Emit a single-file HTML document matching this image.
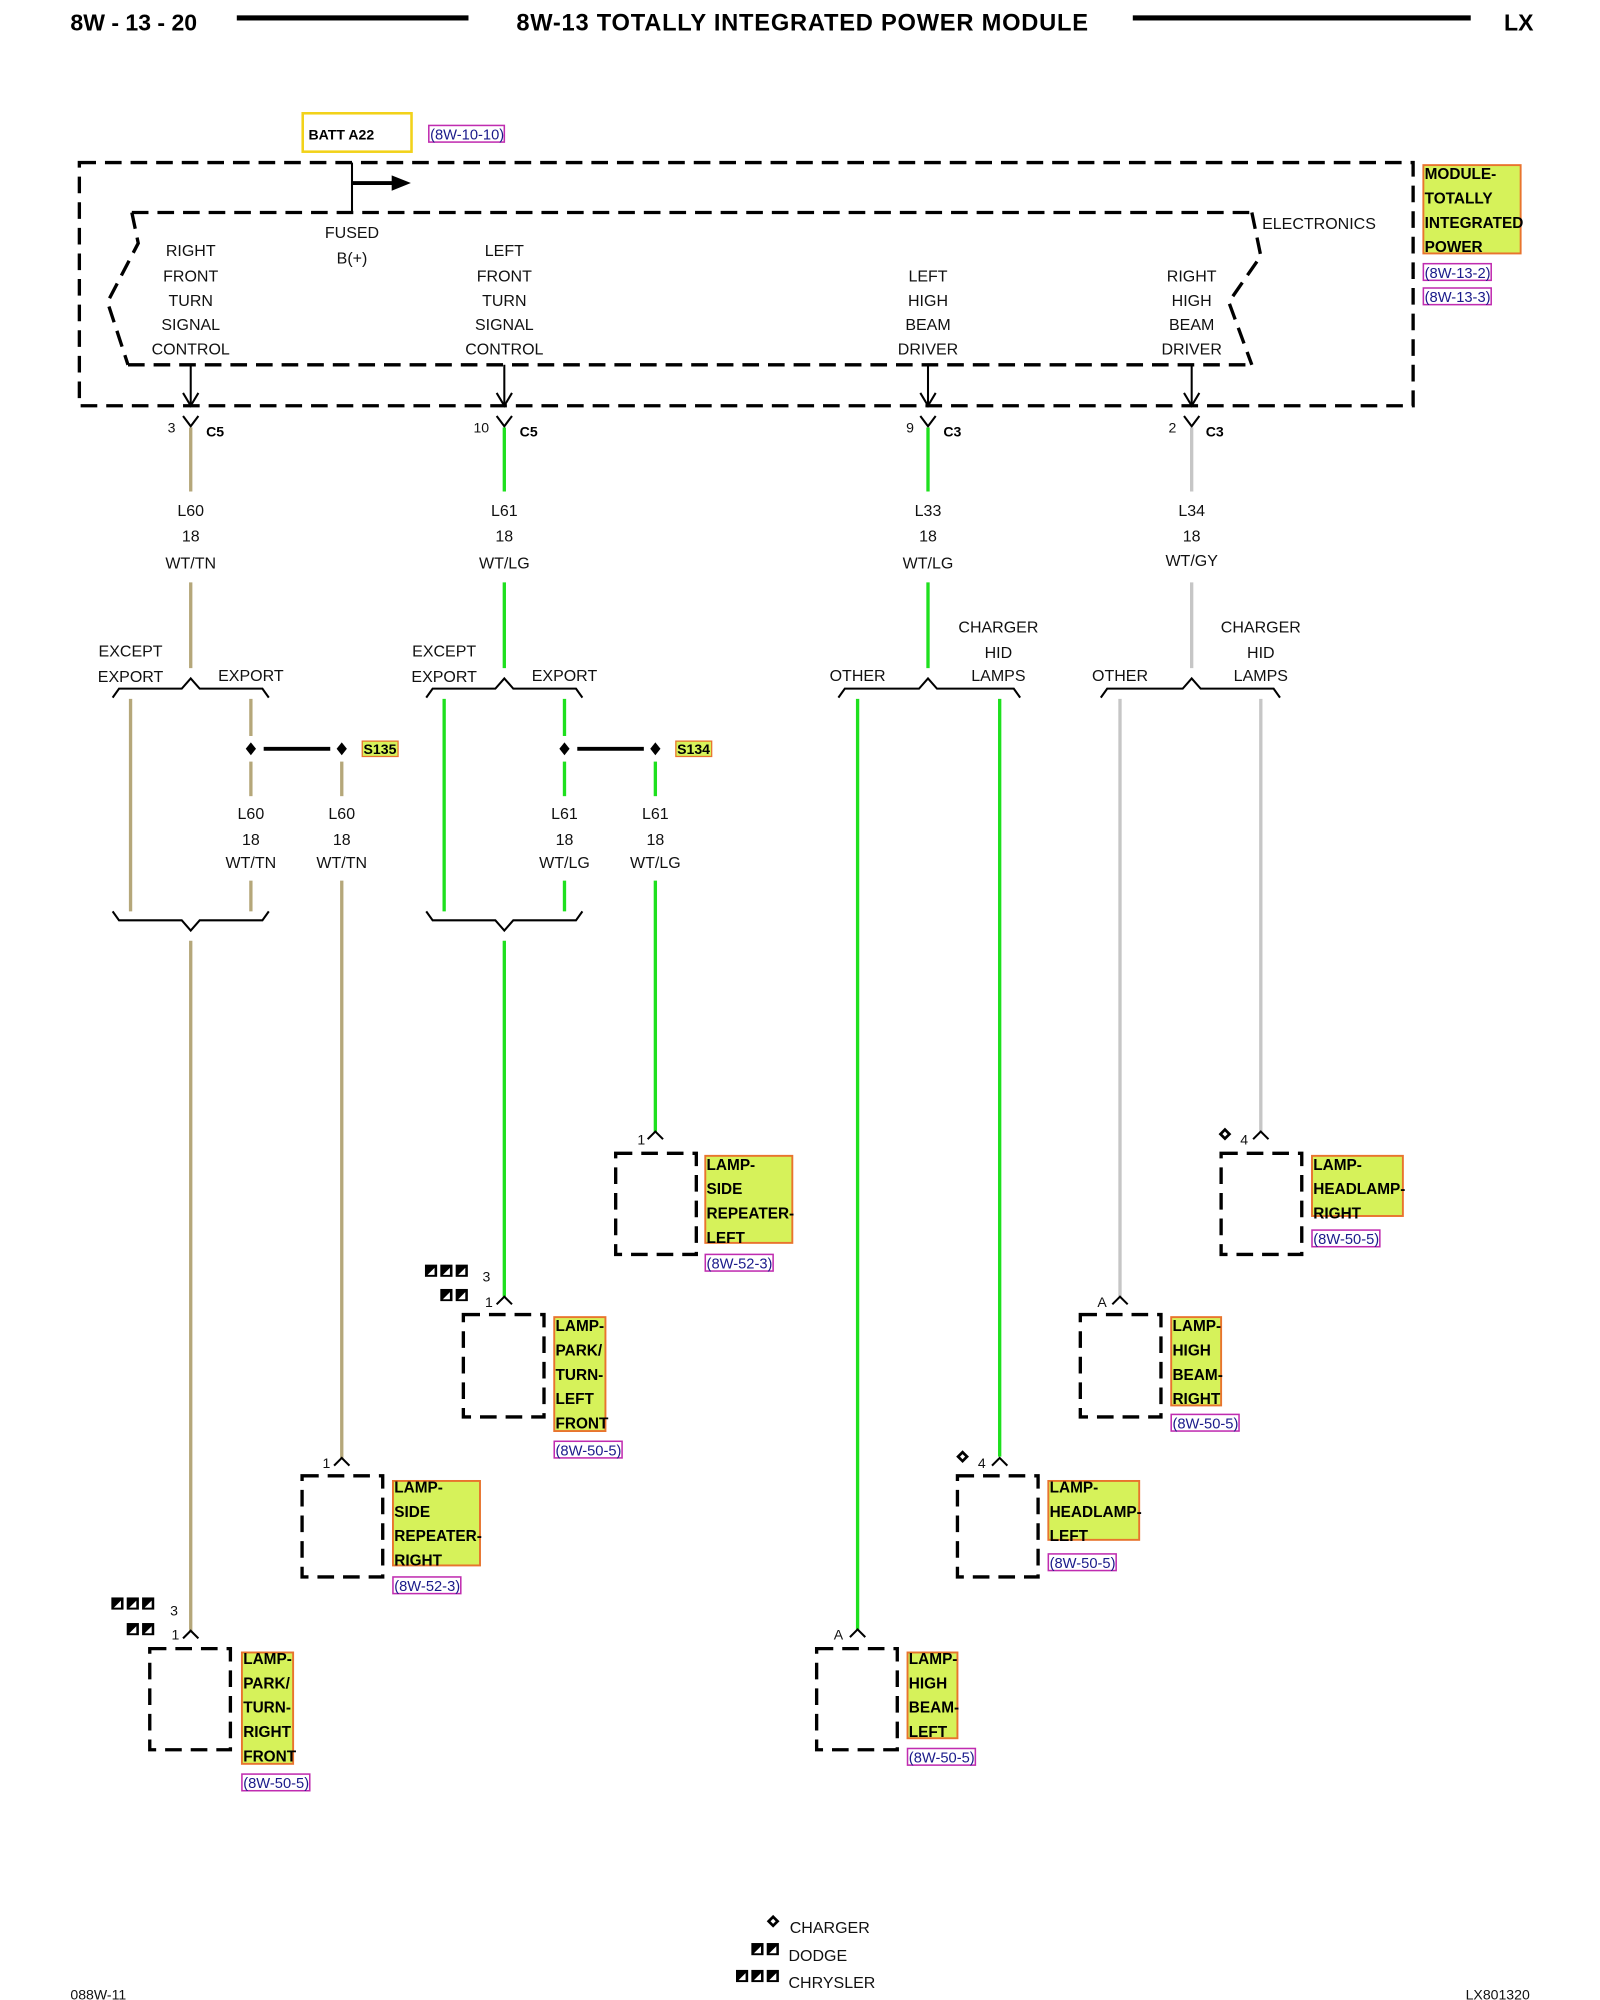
<!DOCTYPE html>
<html><head><meta charset="utf-8"><style>
html,body{margin:0;padding:0;background:#fff;}
svg{display:block;}
text{font-family:"Liberation Sans",Arial,sans-serif;}
.t{font-size:12.5px;fill:#111;text-anchor:middle;}
.b{font-size:12px;font-weight:bold;fill:#000;}
.ref{font-size:11.5px;fill:#1a1a8a;}
.d{fill:none;stroke:#000;stroke-width:2.6;stroke-dasharray:13 7;}
.k{fill:none;stroke:#000;stroke-width:1.6;}
.lb{fill:#d6f25a;stroke:#e8742e;stroke-width:1.5;}
.rb{fill:none;stroke:#c02cb0;stroke-width:1.2;}
.tan{stroke:#b5a77a;stroke-width:2.6;fill:none;}
.grn{stroke:#1ee01e;stroke-width:2.6;fill:none;}
.gry{stroke:#c6c6c6;stroke-width:2.6;fill:none;}
</style></head><body>
<svg width="1600" height="2000" viewBox="0 0 1250 1562.5" xmlns="http://www.w3.org/2000/svg">
<defs>
<g id="ic"><rect x="0" y="0" width="9.5" height="9.5" fill="#000"/><path d="M2 8 L7.5 2.5 L7.5 8 Z" fill="#fff"/></g>
<g id="dm"><path d="M0 -5 L5 0 L0 5 L-5 0 Z" fill="#000"/><path d="M0 -2 L2 0 L0 2 L-2 0Z" fill="#fff"/></g>
<g id="sd"><path d="M0 -5 L4 0 L0 5 L-4 0 Z" fill="#000"/></g>
</defs>

<!-- header -->
<text x="55" y="24" style="font-size:18px;font-weight:bold">8W - 13 - 20</text>
<rect x="185" y="12" width="181" height="4" fill="#000"/>
<text x="627" y="24" style="font-size:18.5px;font-weight:bold;text-anchor:middle;letter-spacing:0.6px">8W-13 TOTALLY INTEGRATED POWER MODULE</text>
<rect x="885" y="12" width="264" height="4" fill="#000"/>
<text x="1175" y="24" style="font-size:18px;font-weight:bold">LX</text>

<!-- BATT -->
<rect x="236.5" y="88.5" width="85" height="30" fill="none" stroke="#f2d21a" stroke-width="2"/>
<text x="241" y="109" class="b" style="font-size:11px">BATT A22</text>
<rect x="335" y="98" width="59" height="13" class="rb"/>
<text x="336" y="109" class="ref">(8W-10-10)</text>

<!-- outer module -->
<rect x="62" y="127" width="1042" height="190" class="d" stroke-width="3"/>
<path d="M103 166 L978 166" class="d"/>
<path d="M100 285 L978 285" class="d"/>
<path d="M103 166 L108 190 L84 236 L100 285" class="d" stroke-dasharray="13 13"/>
<path d="M978 166 L985 200 L960 236 L978 285" class="d" stroke-dasharray="13 13"/>
<text x="986" y="179" class="t" style="text-anchor:start">ELECTRONICS</text>
<line x1="275" y1="127" x2="275" y2="166" class="k"/>
<line x1="275" y1="143" x2="308" y2="143" stroke="#000" stroke-width="3"/>
<path d="M306 137 L321 143 L306 149 Z" fill="#000"/>
<text x="275" y="186" class="t">FUSED</text>
<text x="275" y="206" class="t">B(+)</text>

<text class="t" x="149" y="200">RIGHT</text><text class="t" x="149" y="220">FRONT</text><text class="t" x="149" y="239">TURN</text><text class="t" x="149" y="258">SIGNAL</text><text class="t" x="149" y="277">CONTROL</text>
<text class="t" x="394" y="200">LEFT</text><text class="t" x="394" y="220">FRONT</text><text class="t" x="394" y="239">TURN</text><text class="t" x="394" y="258">SIGNAL</text><text class="t" x="394" y="277">CONTROL</text>
<text class="t" x="725" y="220">LEFT</text><text class="t" x="725" y="239">HIGH</text><text class="t" x="725" y="258">BEAM</text><text class="t" x="725" y="277">DRIVER</text>
<text class="t" x="931" y="220">RIGHT</text><text class="t" x="931" y="239">HIGH</text><text class="t" x="931" y="258">BEAM</text><text class="t" x="931" y="277">DRIVER</text>

<rect x="1112" y="129" width="76" height="69" class="lb"/>
<text x="1113" y="140" class="b">MODULE-</text>
<text x="1113" y="159" class="b">TOTALLY</text>
<text x="1113" y="178" class="b">INTEGRATED</text>
<text x="1113" y="197" class="b">POWER</text>
<rect x="1112" y="206" width="53" height="13" class="rb"/><text x="1113" y="217" class="ref">(8W-13-2)</text>
<rect x="1112" y="225" width="53" height="13" class="rb"/><text x="1113" y="236" class="ref">(8W-13-3)</text>

<g>
<line x1="149" y1="285" x2="149" y2="316" class="k"/><path d="M143 307 L149 317 L155 307" class="k"/>
<line x1="394" y1="285" x2="394" y2="316" class="k"/><path d="M388 307 L394 317 L400 307" class="k"/>
<line x1="725" y1="285" x2="725" y2="316" class="k"/><path d="M719 307 L725 317 L731 307" class="k"/>
<line x1="931" y1="285" x2="931" y2="316" class="k"/><path d="M925 307 L931 317 L937 307" class="k"/>
</g>
<g>
<path d="M143 325 L149 333 L155 325" class="k"/><text x="134" y="338" class="t" style="font-size:11px">3</text><text x="161" y="341" class="b" style="font-size:11px">C5</text>
<path d="M388 325 L394 333 L400 325" class="k"/><text x="376" y="338" class="t" style="font-size:11px">10</text><text x="406" y="341" class="b" style="font-size:11px">C5</text>
<path d="M719 325 L725 333 L731 325" class="k"/><text x="711" y="338" class="t" style="font-size:11px">9</text><text x="737" y="341" class="b" style="font-size:11px">C3</text>
<path d="M925 325 L931 333 L937 325" class="k"/><text x="916" y="338" class="t" style="font-size:11px">2</text><text x="942" y="341" class="b" style="font-size:11px">C3</text>
</g>

<!-- column 1 -->
<line x1="149" y1="334" x2="149" y2="384" class="tan"/>
<text class="t" x="149" y="403">L60</text><text class="t" x="149" y="423">18</text><text class="t" x="149" y="444">WT/TN</text>
<line x1="149" y1="455" x2="149" y2="522" class="tan"/>
<text class="t" x="102" y="513">EXCEPT</text><text class="t" x="102" y="533">EXPORT</text><text class="t" x="196" y="532">EXPORT</text>
<path d="M88 545 L93 538 L142 538 L149 530 L156 538 L205 538 L210 545" class="k"/>
<line x1="102" y1="546" x2="102" y2="712" class="tan"/>
<line x1="196" y1="546" x2="196" y2="575" class="tan"/>
<use href="#sd" x="196" y="585"/>
<line x1="206" y1="585" x2="258" y2="585" stroke="#000" stroke-width="3"/>
<use href="#sd" x="267" y="585"/>
<rect x="283" y="579" width="28" height="12" fill="#d6f25a" stroke="#e8742e"/><text x="284" y="589" class="b" style="font-size:11px">S135</text>
<line x1="196" y1="595" x2="196" y2="622" class="tan"/>
<line x1="267" y1="595" x2="267" y2="622" class="tan"/>
<text class="t" x="196" y="640">L60</text><text class="t" x="196" y="660">18</text><text class="t" x="196" y="678">WT/TN</text>
<text class="t" x="267" y="640">L60</text><text class="t" x="267" y="660">18</text><text class="t" x="267" y="678">WT/TN</text>
<line x1="196" y1="688" x2="196" y2="712" class="tan"/>
<line x1="267" y1="688" x2="267" y2="1140" class="tan"/>
<path d="M88 712 L93 719 L142 719 L149 727 L156 719 L205 719 L210 712" class="k"/>
<line x1="149" y1="735" x2="149" y2="1275" class="tan"/>

<!-- column 2 -->
<line x1="394" y1="334" x2="394" y2="384" class="grn"/>
<text class="t" x="394" y="403">L61</text><text class="t" x="394" y="423">18</text><text class="t" x="394" y="444">WT/LG</text>
<line x1="394" y1="455" x2="394" y2="522" class="grn"/>
<text class="t" x="347" y="513">EXCEPT</text><text class="t" x="347" y="533">EXPORT</text><text class="t" x="441" y="532">EXPORT</text>
<path d="M333 545 L338 538 L387 538 L394 530 L401 538 L450 538 L455 545" class="k"/>
<line x1="347" y1="546" x2="347" y2="712" class="grn"/>
<line x1="441" y1="546" x2="441" y2="575" class="grn"/>
<use href="#sd" x="441" y="585"/>
<line x1="451" y1="585" x2="503" y2="585" stroke="#000" stroke-width="3"/>
<use href="#sd" x="512" y="585"/>
<rect x="528" y="579" width="28" height="12" fill="#d6f25a" stroke="#e8742e"/><text x="529" y="589" class="b" style="font-size:11px">S134</text>
<line x1="441" y1="595" x2="441" y2="622" class="grn"/>
<line x1="512" y1="595" x2="512" y2="622" class="grn"/>
<text class="t" x="441" y="640">L61</text><text class="t" x="441" y="660">18</text><text class="t" x="441" y="678">WT/LG</text>
<text class="t" x="512" y="640">L61</text><text class="t" x="512" y="660">18</text><text class="t" x="512" y="678">WT/LG</text>
<line x1="441" y1="688" x2="441" y2="712" class="grn"/>
<line x1="512" y1="688" x2="512" y2="885" class="grn"/>
<path d="M333 712 L338 719 L387 719 L394 727 L401 719 L450 719 L455 712" class="k"/>
<line x1="394" y1="735" x2="394" y2="1013" class="grn"/>

<!-- column 3 -->
<line x1="725" y1="334" x2="725" y2="384" class="grn"/>
<text class="t" x="725" y="403">L33</text><text class="t" x="725" y="423">18</text><text class="t" x="725" y="444">WT/LG</text>
<line x1="725" y1="455" x2="725" y2="522" class="grn"/>
<text class="t" x="670" y="532">OTHER</text>
<text class="t" x="780" y="494">CHARGER</text><text class="t" x="780" y="514">HID</text><text class="t" x="780" y="532">LAMPS</text>
<path d="M655 545 L660 538 L718 538 L725 530 L732 538 L792 538 L797 545" class="k"/>
<line x1="670" y1="546" x2="670" y2="1273" class="grn"/>
<line x1="781" y1="546" x2="781" y2="1138" class="grn"/>

<!-- column 4 -->
<line x1="931" y1="334" x2="931" y2="384" class="gry"/>
<text class="t" x="931" y="403">L34</text><text class="t" x="931" y="423">18</text><text class="t" x="931" y="442">WT/GY</text>
<line x1="931" y1="455" x2="931" y2="522" class="gry"/>
<text class="t" x="875" y="532">OTHER</text>
<text class="t" x="985" y="494">CHARGER</text><text class="t" x="985" y="514">HID</text><text class="t" x="985" y="532">LAMPS</text>
<path d="M860 545 L865 538 L924 538 L931 530 L938 538 L995 538 L1000 545" class="k"/>
<line x1="875" y1="546" x2="875" y2="1013" class="gry"/>
<line x1="985" y1="546" x2="985" y2="885" class="gry"/>

<!-- side repeater left -->
<path d="M506 890 L512 884 L518 890" class="k"/><text x="501" y="894" class="t" style="font-size:11px">1</text>
<rect x="481" y="901" width="63" height="79" class="d"/>
<rect x="551" y="903" width="68" height="68" class="lb"/>
<text x="552" y="914" class="b">LAMP-</text><text x="552" y="933" class="b">SIDE</text><text x="552" y="952" class="b">REPEATER-</text><text x="552" y="971" class="b">LEFT</text>
<rect x="551" y="980" width="53" height="13" class="rb"/><text x="552" y="991" class="ref">(8W-52-3)</text>

<!-- park turn left front -->
<use href="#ic" x="332" y="988"/><use href="#ic" x="344" y="988"/><use href="#ic" x="356" y="988"/>
<text x="380" y="1001" class="t" style="font-size:11px">3</text>
<use href="#ic" x="344" y="1007"/><use href="#ic" x="356" y="1007"/>
<path d="M388 1019 L394 1013 L400 1019" class="k"/><text x="382" y="1021" class="t" style="font-size:11px">1</text>
<rect x="362" y="1027" width="63" height="80" class="d"/>
<rect x="433" y="1029" width="40" height="89" class="lb"/>
<text x="434" y="1040" class="b">LAMP-</text><text x="434" y="1059" class="b">PARK/</text><text x="434" y="1078" class="b">TURN-</text><text x="434" y="1097" class="b">LEFT</text><text x="434" y="1116" class="b">FRONT</text>
<rect x="433" y="1126" width="53" height="13" class="rb"/><text x="434" y="1137" class="ref">(8W-50-5)</text>

<!-- side repeater right -->
<path d="M261 1145 L267 1139 L273 1145" class="k"/><text x="255" y="1147" class="t" style="font-size:11px">1</text>
<rect x="236" y="1153" width="63" height="79" class="d"/>
<rect x="307" y="1157" width="68" height="66" class="lb"/>
<text x="308" y="1166" class="b">LAMP-</text><text x="308" y="1185" class="b">SIDE</text><text x="308" y="1204" class="b">REPEATER-</text><text x="308" y="1223" class="b">RIGHT</text>
<rect x="307" y="1232" width="53" height="13" class="rb"/><text x="308" y="1243" class="ref">(8W-52-3)</text>

<!-- park turn right front -->
<use href="#ic" x="87" y="1248"/><use href="#ic" x="99" y="1248"/><use href="#ic" x="111" y="1248"/>
<text x="136" y="1262" class="t" style="font-size:11px">3</text>
<use href="#ic" x="99" y="1268"/><use href="#ic" x="111" y="1268"/>
<path d="M143 1280 L149 1274 L155 1280" class="k"/><text x="137" y="1281" class="t" style="font-size:11px">1</text>
<rect x="117" y="1288" width="63" height="79" class="d"/>
<rect x="189" y="1291" width="40" height="87" class="lb"/>
<text x="190" y="1300" class="b">LAMP-</text><text x="190" y="1319" class="b">PARK/</text><text x="190" y="1338" class="b">TURN-</text><text x="190" y="1357" class="b">RIGHT</text><text x="190" y="1376" class="b">FRONT</text>
<rect x="189" y="1386" width="53" height="13" class="rb"/><text x="190" y="1397" class="ref">(8W-50-5)</text>

<!-- high beam left -->
<path d="M664 1279 L670 1273 L676 1279" class="k"/><text x="655" y="1281" class="t" style="font-size:11px">A</text>
<rect x="638" y="1288" width="63" height="79" class="d"/>
<rect x="709" y="1291" width="39" height="67" class="lb"/>
<text x="710" y="1300" class="b">LAMP-</text><text x="710" y="1319" class="b">HIGH</text><text x="710" y="1338" class="b">BEAM-</text><text x="710" y="1357" class="b">LEFT</text>
<rect x="709" y="1366" width="53" height="13" class="rb"/><text x="710" y="1377" class="ref">(8W-50-5)</text>

<!-- headlamp left -->
<use href="#dm" x="752" y="1138"/>
<path d="M775 1145 L781 1139 L787 1145" class="k"/><text x="767" y="1147" class="t" style="font-size:11px">4</text>
<rect x="748" y="1153" width="63" height="79" class="d"/>
<rect x="819" y="1157" width="71" height="46" class="lb"/>
<text x="820" y="1166" class="b">LAMP-</text><text x="820" y="1185" class="b">HEADLAMP-</text><text x="820" y="1204" class="b">LEFT</text>
<rect x="819" y="1214" width="53" height="13" class="rb"/><text x="820" y="1225" class="ref">(8W-50-5)</text>

<!-- high beam right -->
<path d="M869 1019 L875 1013 L881 1019" class="k"/><text x="861" y="1021" class="t" style="font-size:11px">A</text>
<rect x="844" y="1027" width="63" height="80" class="d"/>
<rect x="915" y="1029" width="39" height="69" class="lb"/>
<text x="916" y="1040" class="b">LAMP-</text><text x="916" y="1059" class="b">HIGH</text><text x="916" y="1078" class="b">BEAM-</text><text x="916" y="1097" class="b">RIGHT</text>
<rect x="915" y="1105" width="53" height="13" class="rb"/><text x="916" y="1116" class="ref">(8W-50-5)</text>

<!-- headlamp right -->
<use href="#dm" x="957" y="886"/>
<path d="M979 890 L985 884 L991 890" class="k"/><text x="972" y="894" class="t" style="font-size:11px">4</text>
<rect x="954" y="901" width="63" height="79" class="d"/>
<rect x="1025" y="903" width="71" height="47" class="lb"/>
<text x="1026" y="914" class="b">LAMP-</text><text x="1026" y="933" class="b">HEADLAMP-</text><text x="1026" y="952" class="b">RIGHT</text>
<rect x="1025" y="961" width="53" height="13" class="rb"/><text x="1026" y="972" class="ref">(8W-50-5)</text>

<!-- legend -->
<use href="#dm" x="604" y="1501"/>
<text x="617" y="1510" class="t" style="text-anchor:start">CHARGER</text>
<use href="#ic" x="587" y="1518"/><use href="#ic" x="599" y="1518"/>
<text x="616" y="1532" class="t" style="text-anchor:start">DODGE</text>
<use href="#ic" x="575" y="1539"/><use href="#ic" x="587" y="1539"/><use href="#ic" x="599" y="1539"/>
<text x="616" y="1553" class="t" style="text-anchor:start">CHRYSLER</text>
<text x="55" y="1562" class="t" style="text-anchor:start;font-size:11px">088W-11</text>
<text x="1145" y="1562" class="t" style="text-anchor:start;font-size:11px">LX801320</text>
</svg>
</body></html>
